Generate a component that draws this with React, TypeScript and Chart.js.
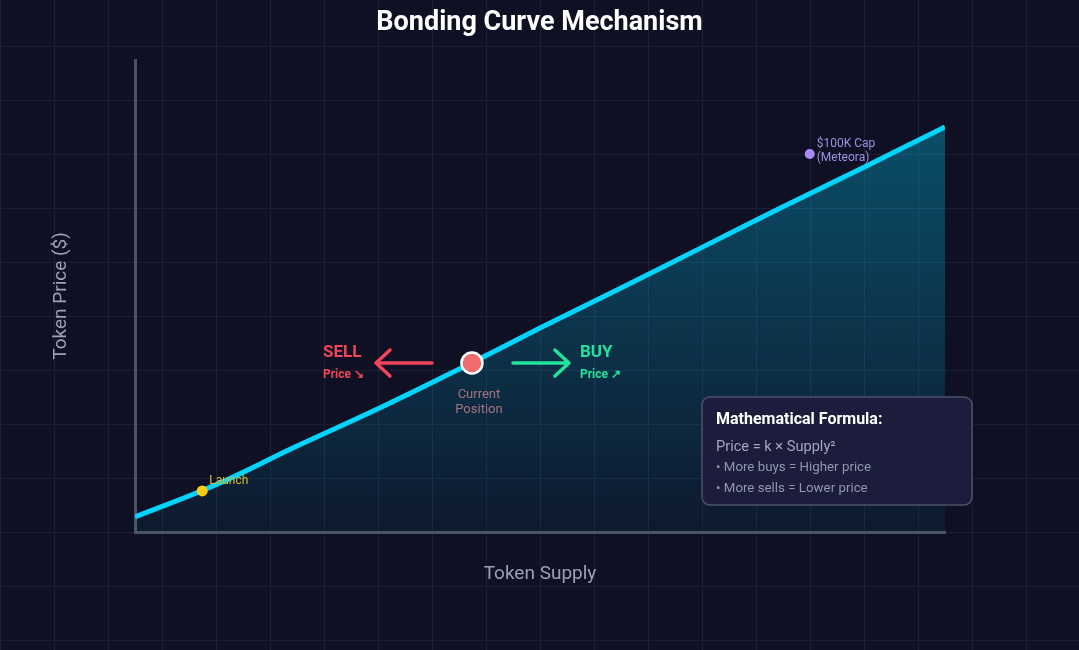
import React, { useEffect, useRef } from 'react';
import { Chart, registerables } from 'chart.js';

Chart.register(...registerables);

// ---- data ----
const supply = [0, 10, 20, 30, 40, 50, 60, 70, 80, 90, 100];
const price = [3.2, 10.0, 18.2, 26.1, 34.5, 43.2, 51.7, 60.3, 68.9, 77.3, 85.8];

const markerNames = ['Launch', 'Current Position', '$100K Cap (Meteora)'];
const markerSupply = [8.3, 41.6, 83.3];
const markerPrice = [8.7, 35.8, 80.1];

const titleText = 'Bonding Curve Mechanism';
const xTitle = 'Token Supply';
const yTitle = 'Token Price ($)';
const sellLabels = ['SELL', 'Price ↘'];
const buyLabels = ['BUY', 'Price ↗'];
const currentLabel = ['Current', 'Position'];
const capLabel = ['$100K Cap', '(Meteora)'];
const formulaTitle = 'Mathematical Formula:';
const formulaLines = ['Price = k × Supply²', '• More buys = Higher price', '• More sells = Lower price'];

const FONT = 'Roboto, "Noto Sans", sans-serif';

function roundRect(ctx: CanvasRenderingContext2D, x: number, y: number, w: number, h: number, r: number) {
  ctx.beginPath();
  ctx.moveTo(x + r, y);
  ctx.lineTo(x + w - r, y);
  ctx.arcTo(x + w, y, x + w, y + r, r);
  ctx.lineTo(x + w, y + h - r);
  ctx.arcTo(x + w, y + h, x + w - r, y + h, r);
  ctx.lineTo(x + r, y + h);
  ctx.arcTo(x, y + h, x, y + h - r, r);
  ctx.lineTo(x, y + r);
  ctx.arcTo(x, y, x + r, y, r);
  ctx.closePath();
}

const annotations = {
  id: 'annotations',
  afterDatasetsDraw(chart: any) {
    const ctx: CanvasRenderingContext2D = chart.ctx;
    const xs = chart.scales.x;
    const ys = chart.scales.y;
    const px = (i: number) => xs.getPixelForValue(markerSupply[i]);
    const py = (i: number) => ys.getPixelForValue(markerPrice[i]);
    ctx.save();
    ctx.textBaseline = 'middle';

    // Launch label
    ctx.textAlign = 'left';
    ctx.font = `12px ${FONT}`;
    ctx.fillStyle = '#d6bd2c';
    ctx.fillText(markerNames[0], px(0) + 7, py(0) - 10);

    // Cap label
    ctx.fillStyle = '#9d90e2';
    ctx.fillText(capLabel[0], px(2) + 7, py(2) - 10);
    ctx.fillText(capLabel[1], px(2) + 7, py(2) + 4);

    // Current position
    const cx = px(1);
    const cy = py(1);
    ctx.textAlign = 'center';
    ctx.font = `13px ${FONT}`;
    ctx.fillStyle = '#a6747f';
    ctx.fillText(currentLabel[0], cx + 7, cy + 32);
    ctx.fillText(currentLabel[1], cx + 7, cy + 47);

    // SELL arrow
    const red = '#f0455a';
    ctx.strokeStyle = red;
    ctx.lineWidth = 3.5;
    ctx.lineCap = 'round';
    ctx.lineJoin = 'round';
    ctx.beginPath();
    ctx.moveTo(cx - 40, cy);
    ctx.lineTo(cx - 96, cy);
    ctx.moveTo(cx - 82, cy - 13);
    ctx.lineTo(cx - 96, cy);
    ctx.lineTo(cx - 82, cy + 13);
    ctx.stroke();
    ctx.fillStyle = red;
    ctx.textAlign = 'left';
    ctx.font = `bold 17px ${FONT}`;
    ctx.fillText(sellLabels[0], cx - 149, cy - 10);
    ctx.font = `bold 12px ${FONT}`;
    ctx.fillText(sellLabels[1], cx - 149, cy + 12);

    // BUY arrow
    const green = '#22e39b';
    ctx.strokeStyle = green;
    ctx.beginPath();
    ctx.moveTo(cx + 41, cy);
    ctx.lineTo(cx + 97, cy);
    ctx.moveTo(cx + 83, cy - 13);
    ctx.lineTo(cx + 97, cy);
    ctx.lineTo(cx + 83, cy + 13);
    ctx.stroke();
    ctx.fillStyle = green;
    ctx.font = `bold 17px ${FONT}`;
    ctx.fillText(buyLabels[0], cx + 108, cy - 10);
    ctx.font = `bold 12px ${FONT}`;
    ctx.fillText(buyLabels[1], cx + 108, cy + 12);

    ctx.restore();
  },
  afterDraw(chart: any) {
    const ctx: CanvasRenderingContext2D = chart.ctx;
    const a = chart.chartArea;
    const bx = a.right - 243;
    const by = a.bottom - 135;
    const bw = 270;
    const bh = 108;
    ctx.save();
    roundRect(ctx, bx, by, bw, bh, 8);
    ctx.fillStyle = '#1c1c3d';
    ctx.fill();
    ctx.strokeStyle = '#4b5069';
    ctx.lineWidth = 1.5;
    ctx.stroke();
    ctx.textAlign = 'left';
    ctx.textBaseline = 'middle';
    ctx.fillStyle = '#ffffff';
    ctx.font = `bold 16px ${FONT}`;
    ctx.fillText(formulaTitle, bx + 14, by + 23);
    ctx.fillStyle = '#a3a7bb';
    ctx.font = `14.6px ${FONT}`;
    ctx.fillText(formulaLines[0], bx + 14, by + 50);
    ctx.fillStyle = '#9297ac';
    ctx.font = `13.3px ${FONT}`;
    ctx.fillText(formulaLines[1], bx + 14, by + 71);
    ctx.fillText(formulaLines[2], bx + 14, by + 92);
    ctx.restore();
  },
};

export default function App() {
  const ref = useRef<HTMLCanvasElement | null>(null);

  useEffect(() => {
    if (!ref.current) return;
    Chart.defaults.font.family = FONT;
    const chart = new Chart(ref.current, {
      type: 'line',
      data: {
        datasets: [
          {
            label: markerNames[0],
            data: [{ x: markerSupply[0], y: markerPrice[0] }],
            showLine: false,
            pointRadius: 5.5,
            pointBackgroundColor: '#facc15',
            pointBorderWidth: 0,
            order: 0,
          },
          {
            label: markerNames[1],
            data: [{ x: markerSupply[1], y: markerPrice[1] }],
            showLine: false,
            pointRadius: 10.5,
            pointBackgroundColor: '#ef6b6d',
            pointBorderColor: '#ffffff',
            pointBorderWidth: 2.5,
            order: 0,
          },
          {
            label: markerNames[2],
            data: [{ x: markerSupply[2], y: markerPrice[2] }],
            showLine: false,
            pointRadius: 5,
            pointBackgroundColor: '#a78bfa',
            pointBorderWidth: 0,
            order: 0,
          },
          {
            label: 'Bonding curve',
            data: supply.map((s, i) => ({ x: s, y: price[i] })),
            borderColor: '#00d4ff',
            borderWidth: 5,
            tension: 0.4,
            pointRadius: 0,
            fill: 'origin',
            backgroundColor: (c: any) => {
              const a = c.chart.chartArea;
              if (!a) return 'rgba(0,212,255,0.2)';
              const g = c.chart.ctx.createLinearGradient(0, a.top, 0, a.bottom);
              g.addColorStop(0, 'rgba(0,212,255,0.36)');
              g.addColorStop(1, 'rgba(0,212,255,0.05)');
              return g;
            },
            order: 1,
          },
        ],
      },
      options: {
        responsive: false,
        animation: false,
        devicePixelRatio: 1,
        layout: { padding: 0 },
        plugins: {
          legend: { display: false },
          tooltip: { enabled: false },
          title: {
            display: true,
            text: titleText,
            color: '#ffffff',
            font: { size: 27, weight: 'bold', family: FONT },
            padding: { top: 7, bottom: 20.6 },
          },
        },
        scales: {
          x: {
            type: 'linear',
            min: 0,
            max: 100,
            grid: { display: false },
            ticks: { display: false },
            border: { display: true, color: '#4b5262', width: 3 },
            title: {
              display: true,
              text: xTitle,
              color: '#9aa1b6',
              font: { size: 19, family: FONT },
              padding: { top: 0, bottom: 64 },
            },
            afterFit: (s: any) => {
              s.height = 118;
            },
          },
          y: {
            type: 'linear',
            min: 0,
            max: 100,
            grid: { display: false },
            ticks: { display: false },
            border: { display: true, color: '#4b5262', width: 3 },
            title: {
              display: true,
              text: yTitle,
              color: '#9aa1b6',
              font: { size: 19, family: FONT },
              padding: { top: 50, bottom: 0 },
            },
            afterFit: (s: any) => {
              s.width = 135;
            },
          },
          yRight: {
            type: 'linear',
            position: 'right',
            display: true,
            min: 0,
            max: 100,
            grid: { display: false },
            ticks: { display: false },
            border: { display: false },
            afterFit: (s: any) => {
              s.width = 134;
            },
          },
        },
      },
      plugins: [annotations],
    } as any);
    return () => chart.destroy();
  }, []);

  return (
    <div
      style={{
        position: 'fixed',
        left: 0,
        top: 0,
        width: 1079,
        height: 650,
        backgroundColor: '#0f1023',
        backgroundImage:
          'linear-gradient(to right, #1c1e38 1px, transparent 1px), linear-gradient(to bottom, #1c1e38 1px, transparent 1px)',
        backgroundSize: '54px 54px',
        backgroundPosition: '0 -8px',
      }}
    >
      <canvas ref={ref} width={1079} height={650} style={{ display: 'block' }} />
    </div>
  );
}
